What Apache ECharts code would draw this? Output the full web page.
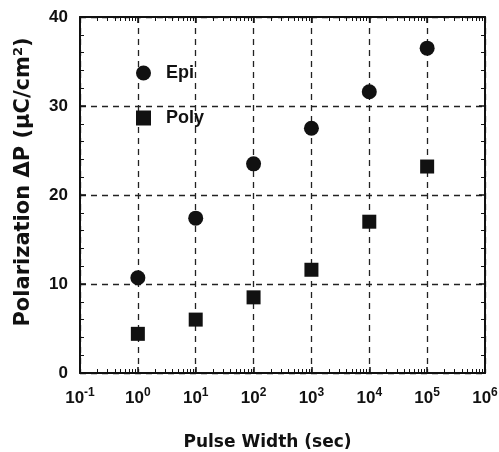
<!DOCTYPE html>
<html>
<head>
<meta charset="utf-8">
<script src="https://cdn.jsdelivr.net/npm/echarts@6/dist/echarts.min.js"></script>
<style>
  html, body { margin: 0; padding: 0; background: #fff; }
  #main { width: 499px; height: 452px; }
</style>
</head>
<body>
<div id="main"></div>
<script>
// pulse widths (sec) and measured polarization
var pulseWidths = [1, 10, 100, 1000, 10000, 100000];
var epiValues = [10.7, 17.4, 23.5, 27.5, 31.6, 36.5];
var polyValues = [4.4, 6.0, 8.5, 11.6, 17.0, 23.2];
var yTicks = [0, 10, 20, 30, 40];
var xDecades = [-1, 0, 1, 2, 3, 4, 5, 6];

var font = '"Liberation Sans", Arial, sans-serif';
var wideFont = '"DejaVu Sans", "Liberation Sans", sans-serif';
var dark = '#111';

// log minor tick positions, in log10 space
var minorX = [];
for (var d = -1; d < 6; d++) {
  for (var k = 2; k <= 9; k++) minorX.push(d + Math.log10(k));
}

function toPoints(vals) {
  return vals.map(function (v, i) { return [Math.log10(pulseWidths[i]), v]; });
}

var chart = echarts.init(document.getElementById('main'));

var dashed = { show: true, lineStyle: { color: '#222', width: 1.3, type: [6, 5] } };
var solidLine = { show: true, onZero: false, lineStyle: { color: dark, width: 2 } };

function xAxisBase(pos) {
  return {
    type: 'value', position: pos,
    min: xDecades[0], max: xDecades[xDecades.length - 1], interval: 1,
    axisLine: { show: false, onZero: false }, axisLabel: { show: false },
    axisTick: { show: false }, splitLine: { show: false }
  };
}

var xMain = xAxisBase('bottom');
xMain.axisLine = solidLine;
xMain.axisTick = { show: true, inside: true, length: 6, lineStyle: { color: dark, width: 1.5 } };
xMain.splitLine = dashed;
xMain.axisLabel = {
  show: true, margin: 14,
  formatter: function (v) { return '{b|10}{s|' + Math.round(v) + '}'; },
  rich: {
    b: { fontFamily: font, fontWeight: 'bold', fontSize: 17, color: dark },
    s: { fontFamily: font, fontWeight: 'bold', fontSize: 12, color: dark, padding: [0, 0, 10, 0] }
  }
};
xMain.name = 'Pulse Width (sec)';
xMain.nameLocation = 'middle';
xMain.nameGap = 61;
xMain.nameTextStyle = { fontFamily: wideFont, fontWeight: 'bold', fontSize: 17, color: dark, padding: [0, 30, 0, 0] };

var xMinor = xAxisBase('bottom');
xMinor.axisTick = { show: true, inside: true, length: 4, customValues: minorX, lineStyle: { color: dark, width: 1 } };

var xTop = xAxisBase('top');
xTop.axisLine = solidLine;
xTop.axisTick = { show: true, inside: true, length: 6, lineStyle: { color: dark, width: 1.5 } };

var xTopMinor = xAxisBase('top');
xTopMinor.axisTick = { show: true, inside: true, length: 4, customValues: minorX, lineStyle: { color: dark, width: 1 } };

function yAxisBase(pos) {
  return {
    type: 'value', position: pos,
    min: yTicks[0], max: yTicks[yTicks.length - 1], interval: 10,
    axisLine: solidLine,
    axisTick: { show: true, inside: true, length: 6, lineStyle: { color: dark, width: 1.5 } },
    minorTick: { show: true, splitNumber: 5, length: 4, lineStyle: { color: dark, width: 1 } },
    axisLabel: { show: false },
    splitLine: { show: false }
  };
}

var yLeft = yAxisBase('left');
yLeft.splitLine = dashed;
yLeft.axisLabel = { show: true, margin: 12, fontFamily: font, fontWeight: 'bold', fontSize: 17, color: dark };
yLeft.name = '{a|Polarization \u0394P (\u03bcC/cm}{s|2}{a|)}';
yLeft.nameLocation = 'middle';
yLeft.nameGap = 44;
yLeft.nameTextStyle = {
  padding: [0, 0, 0, 26],
  rich: {
    a: { fontFamily: wideFont, fontWeight: 'bold', fontSize: 21, color: dark },
    s: { fontFamily: wideFont, fontWeight: 'bold', fontSize: 13, color: dark, padding: [0, 0, 11, 0] }
  }
};

var yRight = yAxisBase('right');

var option = {
  backgroundColor: '#fff',
  animation: false,
  grid: { left: 80, right: 14, top: 17, bottom: 79, outerBoundsMode: 'none' },
  legend: {
    orient: 'vertical',
    left: 131, top: 59,
    itemWidth: 15, itemHeight: 15,
    itemGap: 27,
    textStyle: { fontFamily: font, fontWeight: 'bold', fontSize: 18, color: dark, padding: [0, 0, 0, 10] },
    data: [
      { name: 'Epi', icon: 'circle' },
      { name: 'Poly', icon: 'rect' }
    ]
  },
  xAxis: [xMain, xMinor, xTop, xTopMinor],
  yAxis: [yLeft, yRight],
  series: [
    {
      name: 'Epi', type: 'scatter', symbol: 'circle', symbolSize: 15,
      itemStyle: { color: dark, opacity: 1 },
      data: toPoints(epiValues)
    },
    {
      name: 'Poly', type: 'scatter', symbol: 'rect', symbolSize: 14,
      itemStyle: { color: dark, opacity: 1 },
      data: toPoints(polyValues)
    }
  ]
};

chart.setOption(option);
</script>
</body>
</html>
